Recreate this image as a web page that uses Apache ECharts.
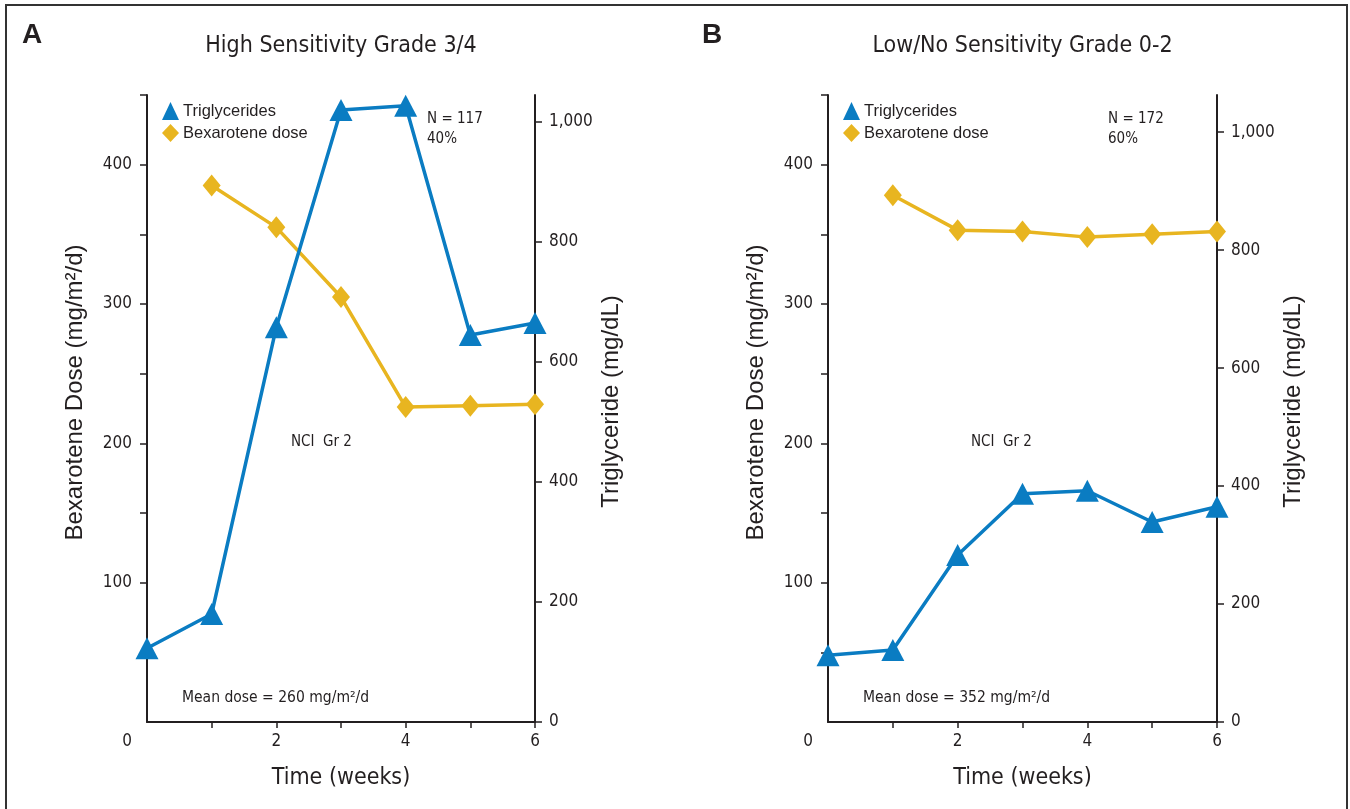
<!DOCTYPE html>
<html>
<head>
<meta charset="utf-8">
<script src="https://cdn.jsdelivr.net/npm/echarts@6/dist/echarts.min.js"></script>
<style>
  html, body { margin: 0; padding: 0; background: #fff; }
  #chart { width: 1350px; height: 809px; }
</style>
</head>
<body>
<div id="chart"></div>
<script>
// ---- Data ----
const weeks = [0, 1, 2, 3, 4, 5, 6];
// Panel A: High Sensitivity Grade 3/4
const triglyceridesA = [123, 180, 658, 1020, 1027, 645, 665];
const doseA = [null, 385, 355, 305, 226, 227, 228];
// Panel B: Low/No Sensitivity Grade 0-2
const triglyceridesB = [113, 122, 283, 387, 392, 339, 365];
const doseB = [null, 378, 353, 352, 348, 350, 352];

const xTickLabels = [0, 2, 4, 6];
const doseTickLabels = [100, 200, 300, 400];
const trigTickLabels = [0, 200, 400, 600, 800, 1000];

const titles = ['High Sensitivity Grade 3/4', 'Low/No Sensitivity Grade 0-2'];
const panelLetters = ['A', 'B'];
const nTexts = ['N = 117\n40%', 'N = 172\n60%'];
const meanTexts = ['Mean dose = 260 mg/m\u00b2/d', 'Mean dose = 352 mg/m\u00b2/d'];
const nciText = 'NCI  Gr 2';

// ---- Styling ----
const INK = '#231f20';
const BLUE = '#0a7cc2';
const GOLD = '#e8b520';
const COND = "'Liberation Sans Narrow', 'DejaVu Sans Condensed', 'Arial Narrow', 'Liberation Sans', sans-serif";
const REG = "'Liberation Sans', Arial, Helvetica, sans-serif";

const grids = [
  { left: 147, top: 95, width: 388, height: 627 },
  { left: 828, top: 95, width: 389, height: 627 }
];
const trigMax = [1045, 1063];

function pairs(arr) {
  const out = [];
  arr.forEach((v, i) => { if (v !== null) out.push([weeks[i], v]); });
  return out;
}

const xAxes = [], yAxes = [], series = [], legends = [], graphics = [];

grids.forEach((g, i) => {
  xAxes.push({
    type: 'value', gridIndex: i, min: 0, max: 6, interval: 1,
    axisLine: { lineStyle: { color: INK, width: 2 } },
    axisTick: { show: true, length: 6, customValues: [1, 2, 3, 4, 5, 6], lineStyle: { color: INK, width: 1.5 } },
    axisLabel: {
      customValues: xTickLabels, margin: 11, color: INK, fontFamily: COND, fontSize: 17,
      formatter: v => v === 0 ? '{o|0}' : String(v),
      rich: { o: { padding: [0, 40, 0, 0], fontFamily: COND, fontSize: 17, color: INK } }
    },
    splitLine: { show: false },
    name: 'Time (weeks)', nameLocation: 'middle', nameGap: 45,
    nameTextStyle: { color: INK, fontFamily: COND, fontSize: 23 }
  });
  yAxes.push({
    type: 'value', gridIndex: i, position: 'left', min: 0, max: 450, interval: 50,
    axisLine: { show: true, lineStyle: { color: INK, width: 2 } },
    axisTick: { show: true, length: 7, customValues: [50, 100, 150, 200, 250, 300, 350, 400, 450], lineStyle: { color: INK, width: 1.5 } },
    axisLabel: { customValues: doseTickLabels, margin: 15, color: INK, fontFamily: COND, fontSize: 17 },
    splitLine: { show: false },
    name: 'Bexarotene Dose (mg/m\u00b2/d)', nameLocation: 'middle', nameGap: 60, nameRotate: 90,
    nameTextStyle: { color: INK, fontFamily: REG, fontSize: 24, padding: [0, 0, 0, 32] }
  });
  yAxes.push({
    type: 'value', gridIndex: i, position: 'right', min: 0, max: trigMax[i], interval: 200,
    axisLine: { show: true, lineStyle: { color: INK, width: 2 } },
    axisTick: { show: true, length: 7, customValues: trigTickLabels, lineStyle: { color: INK, width: 1.5 } },
    axisLabel: {
      customValues: trigTickLabels, margin: 14, color: INK, fontFamily: COND, fontSize: 17,
      formatter: v => v >= 1000 ? (Math.floor(v / 1000) + ',' + String(v % 1000).padStart(3, '0')) : String(v)
    },
    splitLine: { show: false },
    name: 'Triglyceride (mg/dL)', nameLocation: 'middle', nameGap: 64, nameRotate: 90,
    nameTextStyle: { color: INK, fontFamily: REG, fontSize: 24, padding: [0, 0, 0, 14] }
  });

  const dose = i === 0 ? doseA : doseB;
  const trig = i === 0 ? triglyceridesA : triglyceridesB;
  series.push({
    name: 'Bexarotene dose', type: 'line', xAxisIndex: i, yAxisIndex: i * 2,
    data: pairs(dose), symbol: 'diamond', symbolSize: [18, 22],
    lineStyle: { color: GOLD, width: 3.5 }, itemStyle: { color: GOLD },
    z: 2, animation: false
  });
  series.push({
    name: 'Triglycerides', type: 'line', xAxisIndex: i, yAxisIndex: i * 2 + 1,
    data: pairs(trig), symbol: 'triangle', symbolSize: [23, 22],
    lineStyle: { color: BLUE, width: 3.5 }, itemStyle: { color: BLUE },
    z: 3, animation: false
  });

  legends.push({
    left: g.left + 10, top: 97, orient: 'vertical', itemGap: 4,
    itemWidth: 17, itemHeight: 18, selectedMode: false,
    textStyle: { color: INK, fontFamily: REG, fontSize: 16.5, padding: [0, 0, 0, -1] },
    data: [{ name: 'Triglycerides', icon: 'triangle' }, { name: 'Bexarotene dose', icon: 'diamond' }]
  });

  const cx = g.left + g.width / 2;
  graphics.push({
    type: 'text', x: cx, y: 46,
    style: { text: titles[i], fill: INK, font: "23px " + COND, align: 'center', verticalAlign: 'middle' }
  });
  graphics.push({
    type: 'text', x: i === 0 ? 22 : 702, y: 35,
    style: { text: panelLetters[i], fill: INK, font: "bold 28px " + REG, align: 'left', verticalAlign: 'middle' }
  });
  graphics.push({
    type: 'text', x: i === 0 ? 427 : 1108, y: 109,
    style: { text: nTexts[i], fill: INK, font: "15px " + COND, lineHeight: 20, align: 'left', verticalAlign: 'top' }
  });
  graphics.push({
    type: 'text', x: i === 0 ? 291 : 971, y: 442,
    style: { text: nciText, fill: INK, font: "15px " + COND, align: 'left', verticalAlign: 'middle' }
  });
  graphics.push({
    type: 'text', x: i === 0 ? 182 : 863, y: 698,
    style: { text: meanTexts[i], fill: INK, font: "15.5px " + COND, align: 'left', verticalAlign: 'middle' }
  });
});

graphics.push({
  type: 'rect', shape: { x: 6, y: 5, width: 1341, height: 830 },
  style: { fill: 'none', stroke: '#333', lineWidth: 2 }, silent: true
});

const chart = echarts.init(document.getElementById('chart'));
chart.setOption({
  backgroundColor: '#fff',
  animation: false,
  grid: grids,
  xAxis: xAxes,
  yAxis: yAxes,
  legend: legends,
  series: series,
  graphic: graphics
});
</script>
</body>
</html>
